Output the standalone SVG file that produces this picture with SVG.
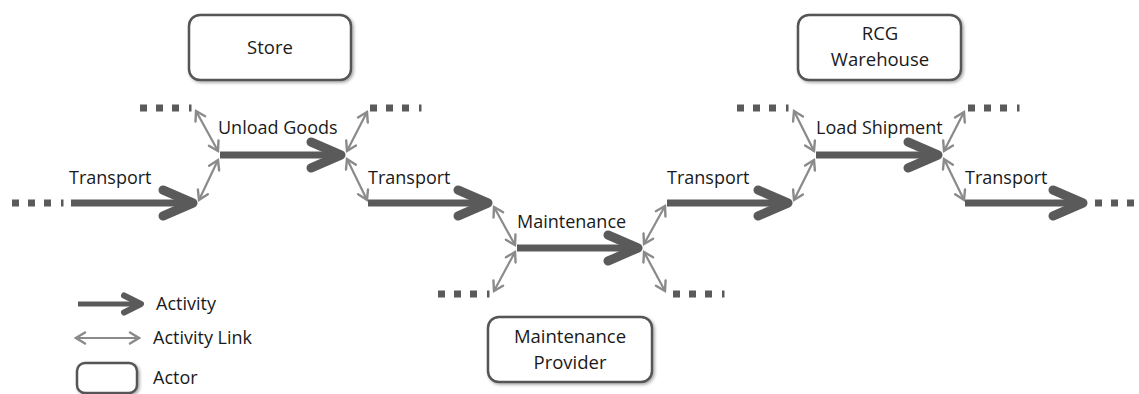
<svg xmlns="http://www.w3.org/2000/svg" xmlns:xlink="http://www.w3.org/1999/xlink" width="1139" height="394" viewBox="0 0 1139 394">
<style>
.box{fill:#fff;stroke:#555;stroke-width:2.5;filter:url(#sh)}
.lbl{font-family:"Open Sans","Liberation Sans",sans-serif;font-size:18px;fill:#1a1a1a}
.ctr{text-anchor:middle;font-size:18.5px}
.act{fill:none;stroke:#5a5a5a;stroke-width:7}
.head{fill:none;stroke:#5a5a5a;stroke-width:9;stroke-linecap:round;stroke-linejoin:round}
.lnk{fill:none;stroke:#8a8a8a;stroke-width:2.2;marker-start:url(#lh);marker-end:url(#lh)}
.dot{fill:#5a5a5a}
</style>
<defs>
<filter id="sh" x="-10%" y="-10%" width="125%" height="130%">
<feDropShadow dx="1.5" dy="1.5" stdDeviation="1.5" flood-color="#000" flood-opacity="0.35"/>
</filter>
<marker id="lh" viewBox="0 0 14 14" refX="12" refY="7" markerWidth="14" markerHeight="14" markerUnits="userSpaceOnUse" orient="auto-start-reverse">
<path d="M3,1.5 L12,7 L3,12.5" fill="none" stroke="#8a8a8a" stroke-width="2.4" stroke-linecap="round"/>
</marker>
<g id="dots">
<rect x="0" y="-3.5" width="7" height="7"/>
<rect x="16" y="-3.5" width="7" height="7"/>
<rect x="32" y="-3.5" width="7" height="7"/>
<rect x="49" y="-3.5" width="2.5" height="7"/>
</g>
</defs>
<rect width="1139" height="394" fill="#fff"/>

<g id="store">
<rect class="box" x="189" y="15" width="162" height="65" rx="11"/>
<text class="lbl ctr" x="270" y="54">Store</text>
</g>
<g id="rcg-warehouse">
<rect class="box" x="798" y="15" width="163" height="65" rx="11"/>
<text class="lbl ctr" x="880" y="40">RCG</text>
<text class="lbl ctr" x="880" y="66">Warehouse</text>
</g>
<g id="maintenance-provider">
<rect class="box" x="488" y="317" width="164" height="65" rx="11"/>
<text class="lbl ctr" x="570" y="343">Maintenance</text>
<text class="lbl ctr" x="570" y="369">Provider</text>
</g>

<g id="activities">
<g id="act-transport-1">
<path class="act" d="M71,203 H190"/>
<path class="head" d="M163,190 L193,203 L163,216"/>
<text class="lbl" x="69" y="184">Transport</text>
</g>
<g id="act-unload-goods">
<path class="act" d="M220,155 H338"/>
<path class="head" d="M311,142 L341,155 L311,168"/>
<text class="lbl" x="218" y="134">Unload Goods</text>
</g>
<g id="act-transport-2">
<path class="act" d="M368,203 H486"/>
<path class="head" d="M458,190 L488,203 L458,216"/>
<text class="lbl" x="368" y="184">Transport</text>
</g>
<g id="act-maintenance">
<path class="act" d="M517,248 H635"/>
<path class="head" d="M608,235 L638,248 L608,261"/>
<text class="lbl" x="517" y="228">Maintenance</text>
</g>
<g id="act-transport-3">
<path class="act" d="M667,203 H785"/>
<path class="head" d="M758,190 L788,203 L758,216"/>
<text class="lbl" x="667" y="184">Transport</text>
</g>
<g id="act-load-shipment">
<path class="act" d="M816,155 H935"/>
<path class="head" d="M908,142 L938,155 L908,168"/>
<text class="lbl" x="816" y="134">Load Shipment</text>
</g>
<g id="act-transport-4">
<path class="act" d="M965,203 H1080"/>
<path class="head" d="M1053,190 L1083,203 L1053,216"/>
<text class="lbl" x="965" y="184">Transport</text>
</g>
</g>

<g id="continuations" class="dot">
<use xlink:href="#dots" href="#dots" x="12" y="203"/>
<use xlink:href="#dots" href="#dots" x="140" y="108"/>
<use xlink:href="#dots" href="#dots" x="370" y="108"/>
<use xlink:href="#dots" href="#dots" x="438" y="294"/>
<use xlink:href="#dots" href="#dots" x="673" y="294"/>
<use xlink:href="#dots" href="#dots" x="737" y="108"/>
<use xlink:href="#dots" href="#dots" x="968" y="108"/>
<rect x="1095" y="199.5" width="7" height="7"/>
<rect x="1111" y="199.5" width="7" height="7"/>
<rect x="1127" y="199.5" width="7" height="7"/>
</g>

<g id="connectors">
<path class="lnk" d="M199,200 L218,160"/>
<path class="lnk" d="M218,151 L196,111"/>
<path class="lnk" d="M347,151 L367,112"/>
<path class="lnk" d="M347,159 L367,200"/>
<path class="lnk" d="M494,207 L515,245"/>
<path class="lnk" d="M515,252 L494,291"/>
<path class="lnk" d="M644,244 L665,206"/>
<path class="lnk" d="M644,252 L665,291"/>
<path class="lnk" d="M794,200 L814,160"/>
<path class="lnk" d="M814,151 L794,111"/>
<path class="lnk" d="M944,151 L964,112"/>
<path class="lnk" d="M944,159 L964,200"/>
</g>

<g id="legend">
<g id="legend-activity">
<path d="M78,304 H138" fill="none" stroke="#5a5a5a" stroke-width="5"/>
<path d="M124,295.5 L141,304 L124,312.5" fill="none" stroke="#5a5a5a" stroke-width="6" stroke-linecap="round" stroke-linejoin="round"/>
<text class="lbl" x="156" y="310" font-size="17">Activity</text>
</g>
<g id="legend-link">
<path class="lnk" d="M76,338 L139,338"/>
<text class="lbl" x="153" y="344" font-size="17">Activity Link</text>
</g>
<g id="legend-actor">
<rect class="box" x="77" y="363" width="60" height="30" rx="8"/>
<text class="lbl" x="153" y="384" font-size="17">Actor</text>
</g>
</g>
</svg>
